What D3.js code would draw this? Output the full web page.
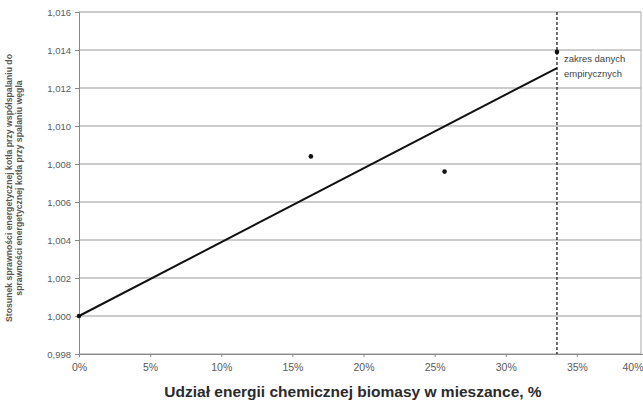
<!DOCTYPE html>
<html><head><meta charset="utf-8">
<script src="https://cdn.jsdelivr.net/npm/d3@7"></script>
<style>body{margin:0;background:#fff}svg{display:block}</style>
</head><body>
<svg id="c" width="643" height="405"></svg>
<script>
const yTicks = [0.998,1.000,1.002,1.004,1.006,1.008,1.010,1.012,1.014,1.016];
const xTicks = [0,0.05,0.10,0.15,0.20,0.25,0.30,0.35,0.40];
const pointsX = [0, 0.163, 0.257, 0.336];
const pointsY = [1.0000, 1.0084, 1.0076, 1.0139];
const lineX = [0, 0.336];
const lineY = [1.0000, 1.01305];
const rangeLimit = 0.336;
const rangeLabel = ["zakres danych","empirycznych"];
const yTitle = ["Stosunek sprawności energetycznej kotła przy współspalaniu do","sprawności energetycznej kotła przy spalaniu węgla"];
const xTitle = "Udział energii chemicznej biomasy w mieszance, %";

const svg = d3.select("#c");
const L=79, R=648, T=12, B=354;
const x = d3.scaleLinear().domain([0,0.40]).range([L,R]);
const y = d3.scaleLinear().domain([0.998,1.016]).range([B,T]);
const fmtY = d => d3.format(".3f")(d).replace(".",",");
const fmtX = d => Math.round(d*100)+"%";
const font = "Liberation Sans, Arial, sans-serif";

// gridlines
svg.append("g").selectAll("line").data(yTicks).join("line")
  .attr("x1",L).attr("x2",641).attr("y1",d=>y(d)).attr("y2",d=>y(d))
  .attr("stroke","#999").attr("stroke-width",1);
// right border
svg.append("line").attr("x1",641).attr("x2",641).attr("y1",T).attr("y2",B).attr("stroke","#aaa");

// y axis
const ya = svg.append("g").attr("transform",`translate(${L},0)`)
  .call(d3.axisLeft(y).tickValues(yTicks).tickFormat(fmtY).tickSize(4).tickPadding(4));
ya.select(".domain").attr("stroke","#888");
ya.selectAll(".tick line").attr("stroke","#888");
ya.selectAll("text").attr("font-family",font).attr("font-size",9.5).attr("fill","#5a5a5a");

// x axis
const xa = svg.append("g").attr("transform",`translate(0,${B})`)
  .call(d3.axisBottom(x).tickValues(xTicks).tickFormat(fmtX).tickSize(3).tickPadding(7));
xa.select(".domain").attr("stroke","#888");
xa.selectAll(".tick line").attr("stroke","#888");
xa.selectAll("text").attr("font-family",font).attr("font-size",10.5).attr("fill","#5a5a5a");
xa.selectAll(".tick").filter(d=>d>=0.399).select("text").attr("text-anchor","end").attr("x",-(R-643));

// dashed range line
svg.append("line").attr("x1",x(rangeLimit)).attr("x2",x(rangeLimit)).attr("y1",T).attr("y2",B)
  .attr("stroke","#222").attr("stroke-width",1.3).attr("stroke-dasharray","3,2");
svg.append("text").attr("font-family",font).attr("font-size",9.5).attr("fill","#444")
  .selectAll("tspan").data(rangeLabel).join("tspan")
  .attr("x",x(rangeLimit)+7).attr("y",(d,i)=>62+i*15).text(d=>d);

// trend line
svg.append("line").attr("x1",x(lineX[0])).attr("y1",y(lineY[0])).attr("x2",x(lineX[1])).attr("y2",y(lineY[1]))
  .attr("stroke","#111").attr("stroke-width",2);

// points
svg.append("g").selectAll("circle").data(pointsX).join("circle")
  .attr("cx",d=>x(d)).attr("cy",(d,i)=>y(pointsY[i])).attr("r",2.3).attr("fill","#111");

// y title
const yt = svg.append("text").attr("transform","translate(12,188) rotate(-90)")
  .attr("text-anchor","middle").attr("font-family",font).attr("font-size",8.7).attr("font-weight","bold").attr("fill","#555");
yt.selectAll("tspan").data(yTitle).join("tspan").attr("x",0).attr("dy",(d,i)=>i?9.5:0).text(d=>d);

// x title
svg.append("text").attr("x",353).attr("y",397).attr("text-anchor","middle")
  .attr("font-family",font).attr("font-size",15.5).attr("font-weight","bold").attr("fill","#2a2a2a").text(xTitle);
</script>
</body></html>
